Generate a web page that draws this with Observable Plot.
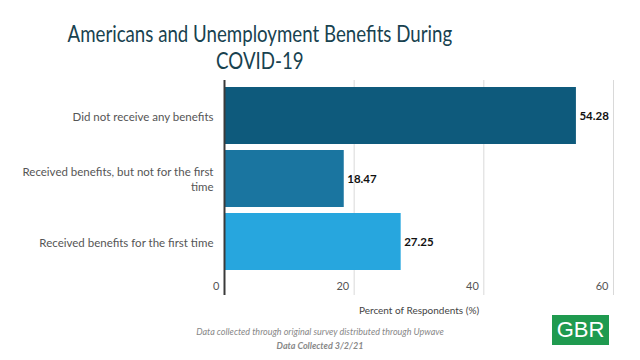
<!DOCTYPE html>
<html>
<head>
<meta charset="utf-8">
<script src="https://cdn.jsdelivr.net/npm/d3@7"></script>
<script src="https://cdn.jsdelivr.net/npm/@observablehq/plot@0.6"></script>
<style>
  html, body { margin: 0; padding: 0; background: #fff; }
  #wrap { position: relative; width: 640px; height: 360px; overflow: hidden; font-family: "Lato", "Open Sans", sans-serif; }
  #title { position: absolute; left: 0; width: 520px; top: 20px; text-align: center; font-size: 22.5px; line-height: 27px; color: #18424f; transform: scaleX(0.83); transform-origin: 259px 0; }
  #note1 { position: absolute; left: 0; width: 640px; top: 326px; text-align: center; font-size: 9px; font-style: italic; color: #888; }
  #note2 { position: absolute; left: 0; width: 640px; top: 340px; text-align: center; font-size: 9px; font-style: italic; font-weight: bold; color: #888; }
  #logo { position: absolute; left: 552px; top: 315px; width: 57px; height: 30px; background: #1f9a4f; color: #fff; font-family: "Liberation Sans", Arial, sans-serif; font-size: 22px; line-height: 30px; text-align: center; }
  #chart { position: absolute; left: 0; top: 0; }
</style>
</head>
<body>
<div id="wrap">
  <div id="chart"></div>
  <div id="title">Americans and Unemployment Benefits During<br>COVID-19</div>
  <div id="note1">Data collected through original survey distributed through Upwave</div>
  <div id="note2">Data Collected 3/2/21</div>
  <div id="logo">GBR</div>
</div>
<script>
const categories = [
  "Did not receive any benefits",
  "Received benefits, but not for the first time",
  "Received benefits for the first time"
];
const values = [54.28, 18.47, 27.25];
const colors = ["#0e5a7c", "#1a75a0", "#27a6de"];
const xTicks = [0, 20, 40, 60];
const xLabel = "Percent of Respondents (%)";

const data = categories.map((c, i) => ({category: c, value: values[i], color: colors[i]}));

const chart = Plot.plot({
  width: 640,
  height: 360,
  marginLeft: 224,
  marginRight: 27,
  marginTop: 80,
  marginBottom: 65,
  style: {fontFamily: "Lato, 'Open Sans', sans-serif", background: "transparent"},
  x: {domain: [0, 60], axis: null},
  y: {domain: categories, range: [84, 273], paddingInner: 0.1, paddingOuter: 0.05, axis: null},
  marks: [
    Plot.ruleX(xTicks.filter(d => d > 0), {stroke: "#d9d9d9", strokeWidth: 1}),
    Plot.barX(data, {y: "category", x: "value", fill: "color"}),
    Plot.ruleX([0], {stroke: "#3a3a3a", strokeWidth: 2}),
    Plot.text(xTicks, {x: d => d, frameAnchor: "bottom", textAnchor: "end", dx: -5, dy: -6, fontSize: 11, fill: "#555"}),
    Plot.text([xLabel], {frameAnchor: "bottom", dy: 18, fontSize: 10, fill: "#444"}),
    Plot.text(data, {y: "category", x: 0, text: "category", textAnchor: "end", dx: -11, fontSize: 11.5, fill: "#555", lineWidth: 19.5, lineHeight: 1.3}),
    Plot.text(data, {y: "category", x: "value", text: d => d.value.toFixed(2), textAnchor: "start", dx: 3, fontSize: 11.5, fontWeight: "bold", fill: "#111"})
  ]
});
document.getElementById("chart").append(chart);
</script>
</body>
</html>
